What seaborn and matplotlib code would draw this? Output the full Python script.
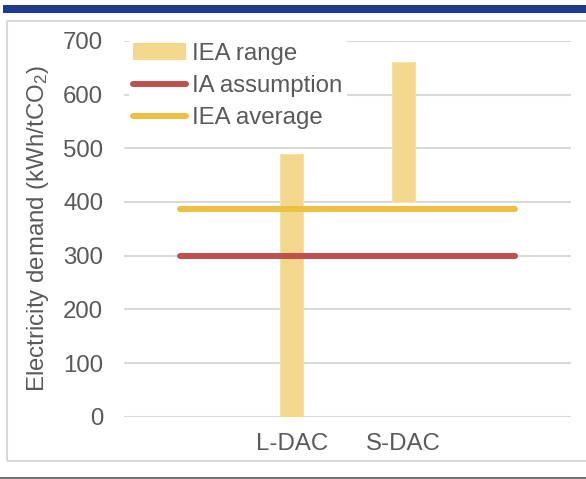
import matplotlib
matplotlib.use("Agg")
import matplotlib.pyplot as plt
from matplotlib.patches import Rectangle, Patch
from matplotlib.lines import Line2D
import seaborn as sns
import pandas as pd

# Category slots along the x axis (outer slots are unlabelled padding)
categories = ["", "L-DAC", "S-DAC", " "]
range_categories = ["L-DAC", "S-DAC"]
iea_low = [0, 400]
iea_high = [490, 660]
ia_assumption = [300, 300, 300, 300]
iea_average = [387, 387, 387, 387]
y_ticks = [0, 100, 200, 300, 400, 500, 600, 700]

TEXT = "#595959"
GRID = "#D9D9D9"
RANGE_C = "#F2D78D"
RED = "#C0504D"
GOLD = "#EDC043"
FS = 17.3

sns.set_theme(style="white")
plt.rcParams["font.family"] = ["Liberation Sans", "DejaVu Sans"]
plt.rcParams["mathtext.default"] = "regular"

fig = plt.figure(figsize=(5.86, 4.79), dpi=100)
W, H = 586, 479
ax = fig.add_axes([124 / W, 1 - 416.7 / H, 447 / W, (416.7 - 40.8) / H])

range_df = pd.DataFrame({"cat": range_categories, "low": iea_low, "high": iea_high})
range_df["span"] = range_df["high"] - range_df["low"]
sns.barplot(data=range_df, x="cat", y="span", order=categories, width=0.21,
            color=RANGE_C, saturation=1, edgecolor="#F6E3AA", linewidth=0.8, ax=ax)
# lift each range bar onto its lower bound
bars = [p for p in ax.patches if p.get_height() > 0]
for p, lo in zip(bars, range_df["low"]):
    p.set_y(lo)

line_df = pd.DataFrame({"cat": categories, "ia": ia_assumption, "avg": iea_average})
sns.pointplot(data=line_df, x="cat", y="ia", order=categories, color=RED,
              markers="", errorbar=None, linewidth=4.3, ax=ax)
sns.pointplot(data=line_df, x="cat", y="avg", order=categories, color=GOLD,
              markers="", errorbar=None, linewidth=4.3, ax=ax)
for ln in ax.lines:
    ln.set_solid_capstyle("round")

ax.set_xlim(-0.5, len(categories) - 0.5)
ax.set_ylim(0, 700)
ax.set_yticks(y_ticks)
ax.yaxis.grid(True, color=GRID, linewidth=1.5)
ax.set_axisbelow(True)
for s in ax.spines.values():
    s.set_visible(False)
ax.tick_params(axis="both", length=0, labelsize=FS, colors=TEXT)
ax.tick_params(axis="y", pad=15)
ax.tick_params(axis="x", pad=12)
ax.set_xlabel("")
ax.set_ylabel("Electricity demand (kWh/tCO$_2$)", fontsize=FS, color=TEXT, labelpad=9)

handles = [
    Patch(facecolor=RANGE_C, edgecolor="none"),
    Line2D([0], [0], color=RED, lw=4.3, solid_capstyle="round"),
    Line2D([0], [0], color=GOLD, lw=4.3, solid_capstyle="round"),
]
leg = ax.legend(handles, ["IEA range", "IA assumption", "IEA average"],
                loc="upper left", bbox_to_anchor=(-0.006, 1.027), fontsize=FS,
                frameon=True, facecolor="white", edgecolor="none", framealpha=1,
                handlelength=2.2, handleheight=0.75, handletextpad=0.25,
                labelspacing=0.42, borderpad=0.2, borderaxespad=0.3)
for t in leg.get_texts():
    t.set_color(TEXT)

# page furniture: blue band, light frame, dark rule
fig.add_artist(Rectangle((3 / W, 1 - 13.3 / H), 1, 8.3 / H, transform=fig.transFigure,
                         facecolor="#1E3A8F", edgecolor="none"))
fig.add_artist(Rectangle((6.5 / W, 1 - 461 / H), 1, (461 - 20.5) / H, transform=fig.transFigure,
                         facecolor="none", edgecolor=GRID, linewidth=1.5))
fig.add_artist(Line2D([0, 1], [1 - 477.8 / H] * 2, transform=fig.transFigure,
                      color="#595959", linewidth=1.2))

fig.savefig("out.png", dpi=100)
